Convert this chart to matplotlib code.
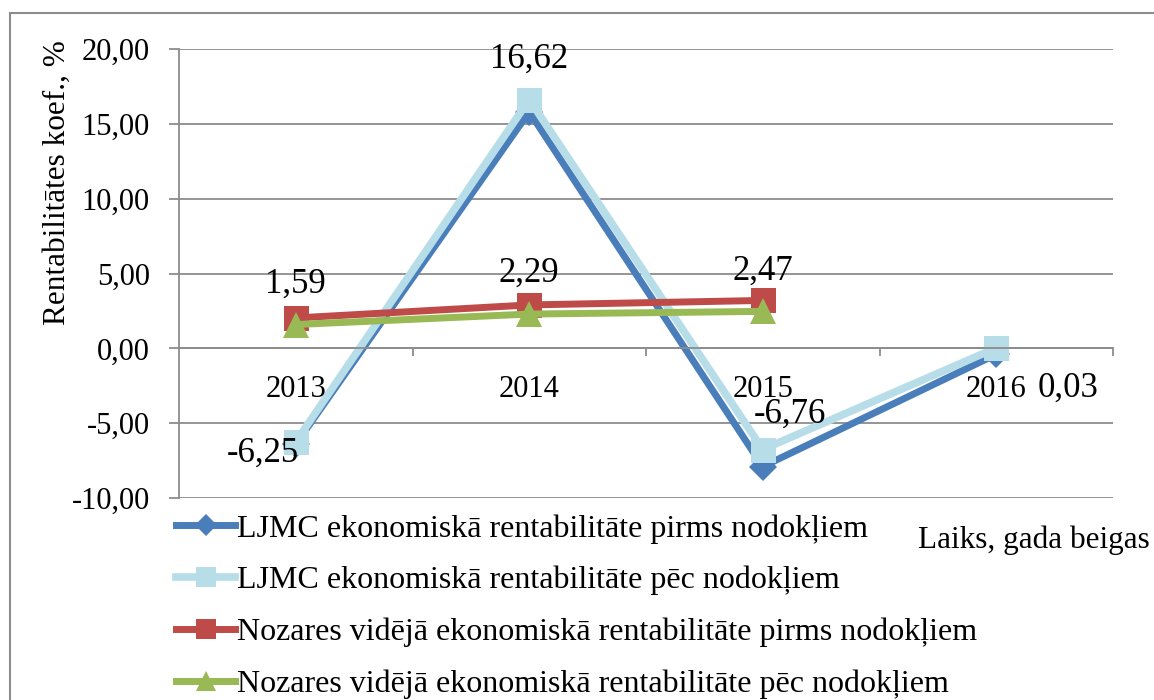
import matplotlib
matplotlib.use("Agg")
import matplotlib.pyplot as plt
from matplotlib.patches import Rectangle

plt.rcParams["font.family"] = ["Liberation Serif", "DejaVu Serif"]

# data
years = ["2013", "2014", "2015", "2016"]
ljmc_pirms = [-6.4, 15.8, -7.9, -0.4]
ljmc_pec = [-6.25, 16.62, -6.76, 0.03]
nozare_pirms = [2.03, 2.9, 3.2]
nozare_pec = [1.59, 2.29, 2.47]
y_ticks = [-10, -5, 0, 5, 10, 15, 20]
series_names = [
    "LJMC ekonomiskā rentabilitāte pirms nodokļiem",
    "LJMC ekonomiskā rentabilitāte pēc nodokļiem",
    "Nozares vidējā ekonomiskā rentabilitāte pirms nodokļiem",
    "Nozares vidējā ekonomiskā rentabilitāte pēc nodokļiem",
]

GRID = "#8c8c8c"
W, H = 1154, 700


def fmt(v):
    return "{:.2f}".format(v).replace(".", ",")


fig = plt.figure(figsize=(W / 100, H / 100), dpi=100)
ax = fig.add_axes([179 / W, 1 - 498 / H, (1113 - 179) / W, (498 - 49) / H])

xs = list(range(len(years)))
l1, = ax.plot(xs, ljmc_pirms, "-D", color="#4A7EBB", lw=5, ms=14, mew=0)
l2, = ax.plot(xs, ljmc_pec, "-s", color="#B7DDE8", lw=5.5, ms=18, mew=0)
l3, = ax.plot(xs[:3], nozare_pirms, "-s", color="#BE4B48", lw=5, ms=18, mew=0)
l4, = ax.plot(xs[:3], nozare_pec, "-^", color="#98B954", lw=5, ms=19, mew=0)

ax.set_xlim(-0.5, 3.5)
ax.set_ylim(-10, 20)
ax.set_yticks(y_ticks)
ax.set_yticklabels([fmt(v) for v in y_ticks], fontsize=22)
ax.yaxis.grid(True, color=GRID, lw=1.3)
ax.set_axisbelow(True)
ax.tick_params(axis="y", direction="out", length=7, width=1.3, color=GRID, pad=14)

ax.spines["top"].set_visible(False)
ax.spines["right"].set_visible(False)
ax.spines["left"].set_color(GRID)
ax.spines["left"].set_linewidth(1.3)
ax.spines["bottom"].set_position(("data", 0))
ax.spines["bottom"].set_color(GRID)
ax.spines["bottom"].set_linewidth(1.3)
ax.set_xticks([0.5, 1.5, 2.5, 3.5])
ax.set_xticklabels([])
ax.tick_params(axis="x", direction="out", length=6, width=1.3, color=GRID)

# category labels under the zero line
for i, yr in enumerate(years):
    ax.annotate(yr, (i, 0), xytext=(0, -49), textcoords="offset pixels",
                ha="center", va="baseline", fontsize=22)

# data labels
lbl_offsets = [(-33, -20), (0, 32), (27, 27), (72, -49)]
for i, v in enumerate(ljmc_pec):
    ax.annotate(fmt(v), (i, v), xytext=lbl_offsets[i], textcoords="offset pixels",
                ha="center", va="baseline", fontsize=25)
for i, v in enumerate(nozare_pec):
    ax.annotate(fmt(v), (i, v), xytext=(0, 32), textcoords="offset pixels",
                ha="center", va="baseline", fontsize=25)

fig.text(57 / W, 1 - 183 / H, "Rentabilitātes koef., %", rotation=90,
         ha="center", va="center", fontsize=22.5)
fig.text(918 / W, 1 - 548 / H, "Laiks, gada beigas", ha="left",
         va="baseline", fontsize=22.5)

fig.legend([l1, l2, l3, l4], series_names, loc="upper left",
           bbox_to_anchor=(176 / W, 1 - 514 / H), frameon=False,
           fontsize=23, handlelength=1.85, handletextpad=0.05,
           labelspacing=0.7, borderpad=0, borderaxespad=0, markerscale=0.77)

fig.add_artist(Rectangle((10 / W, -0.1), 1.2, 1.1 - 13 / H, transform=fig.transFigure,
                         fill=False, edgecolor=GRID, lw=1.5))

fig.savefig("out.png", dpi=100)
